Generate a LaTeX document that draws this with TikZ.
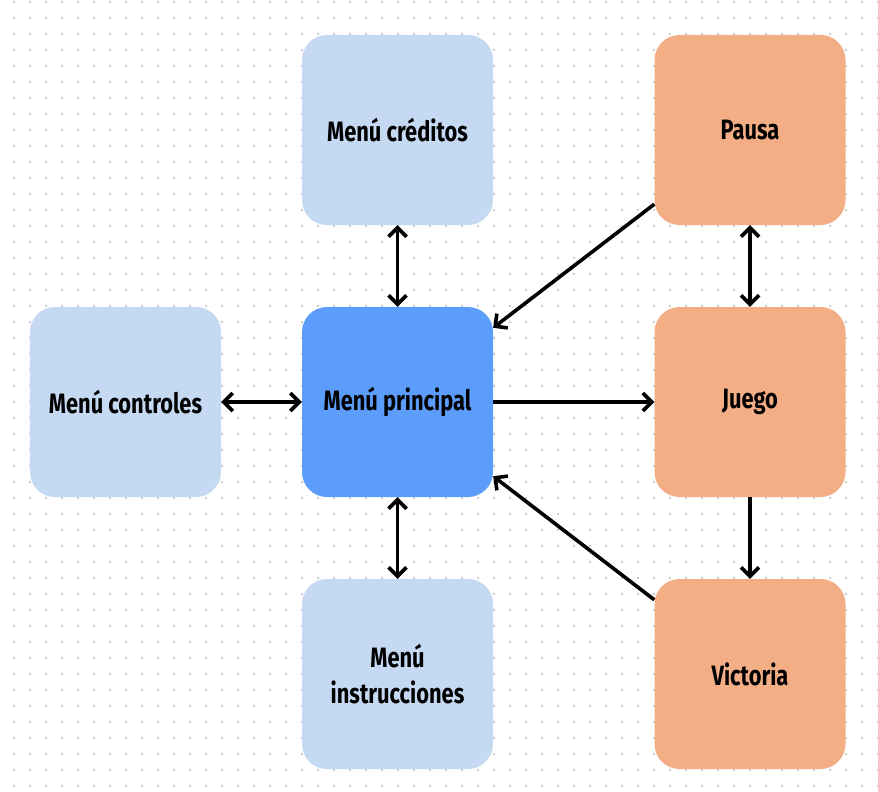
\documentclass[tikz,border=0pt]{standalone}
\usepackage{fontspec}
\setmainfont{Fira Sans}[FakeStretch=0.78]
\usepackage{tikz}
\usetikzlibrary{arrows.meta}
\definecolor{lightblue}{RGB}{198,217,242}
\definecolor{mainblue}{RGB}{92,157,252}
\definecolor{peach}{RGB}{244,174,134}
\definecolor{dotgray}{RGB}{205,205,205}

\tikzset{
  menubox/.style = {rounded corners=25bp, minimum width=191bp, minimum height=190bp,
    align=center, font=\fontsize{28bp}{36bp}\selectfont\bfseries, inner sep=0pt},
  flow/.style = {line width=3.6bp, >={Straight Barb[length=9bp,width=18bp,line width=3.6bp]}}
}

\begin{document}
\begin{tikzpicture}[x=1bp, y=-1bp]
  \useasboundingbox (0,0) rectangle (878,792);
  \fill [white] (0,0) rectangle (878,792);
  % dotted grid
  \foreach \gx in {14,30,...,878}
    \foreach \gy in {2,18,...,792}
      \fill [dotgray] (\gx-1,\gy-1) rectangle (\gx+1,\gy+1);

  \node [menubox, fill=lightblue] (creditos) at (397.5, 130) {Menú créditos};
  \node [menubox, fill=peach] (pausa) at (750, 130) {Pausa};
  \node [menubox, fill=lightblue] (controles) at (125.5, 402) {Menú controles};
  \node [menubox, fill=mainblue] (principal) at (397.5, 402) {Menú principal};
  \node [menubox, fill=peach] (juego) at (750, 402) {Juego};
  \node [menubox, fill=lightblue] (instrucciones) at (397.5, 674) {Menú\\instrucciones};
  \node [menubox, fill=peach] (victoria) at (750, 674) {Victoria};

  \coordinate (pausaout) at ([yshift=21bp]pausa.south west);
  \coordinate (principalin) at ([yshift=-21bp]principal.north east);
  \coordinate (victoriaout) at ([yshift=-21bp]victoria.north west);
  \coordinate (principalback) at ([yshift=21bp]principal.south east);

  \draw [flow, <->] (creditos) -- (principal);
  \draw [flow, <->] (controles) -- (principal);
  \draw [flow, <->] (principal) -- (instrucciones);
  \draw [flow, ->] (principal) -- (juego);
  \draw [flow, <->] (pausa) -- (juego);
  \draw [flow, ->] (juego) -- (victoria);
  \draw [flow, ->] (pausaout) -- (principalin);
  \draw [flow, ->] (victoriaout) -- (principalback);
\end{tikzpicture}
\end{document}
